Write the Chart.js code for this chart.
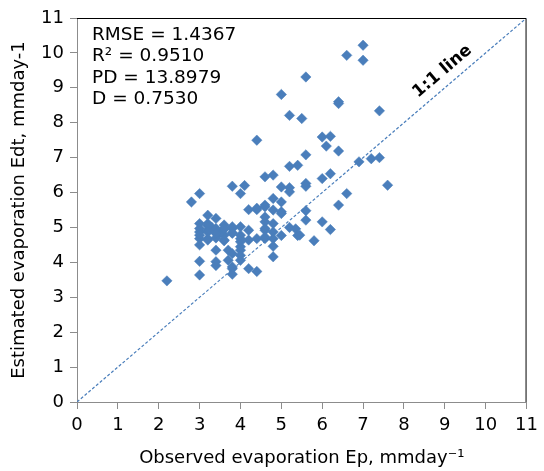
<!DOCTYPE html>
<html><head><meta charset="utf-8">
<script src="https://cdn.jsdelivr.net/npm/chart.js@4.4.1/dist/chart.umd.min.js"></script>
<style>html,body{margin:0;padding:0;background:#fff}#wrap{width:544px;height:471px}</style>
</head><body><div id="wrap"><canvas id="c" width="544" height="471"></canvas></div>
<script>
// Observed evaporation Ep (x) and estimated evaporation Edt (y), mm/day
const observed = [2.2,3.0,3.0,3.4,3.4,3.8,3.8,4.2,4.4,3.4,3.6,3.7,4.0,4.0,4.0,3.0,2.8,3.8,4.1,4.0,
  4.6,4.8,4.2,4.4,4.6,4.8,4.8,3.2,3.4,3.0,3.0,3.2,3.0,3.2,3.4,3.6,3.6,3.8,3.8,4.0,
  4.2,4.0,4.0,4.2,4.4,4.6,4.6,4.6,4.8,4.8,4.8,4.8,4.8,3.7,3.8,7.0,6.6,7.0,5.6,5.0,
  6.4,6.4,7.4,5.2,5.5,6.0,6.2,6.1,6.4,5.6,4.4,6.9,7.2,7.4,7.6,5.2,5.4,6.0,6.2,5.0,
  5.2,5.2,5.6,5.6,6.6,5.0,5.0,5.6,6.4,5.6,6.0,5.2,5.35,6.2,5.0,5.4,5.8,3.3,3.5,3.4,
  3.0,3.2,3.6,4.6,4.4,4.6,5.0,4.6,4.6,4.0,4.0,3.8,3.8,3.6,3.6,3.4,3.4,3.2,3.2,3.0,
  3.0,3.2,3.8,5.45];
const estimated = [3.47,3.64,4.03,3.91,4.02,3.82,3.66,3.82,3.74,4.35,4.62,4.35,4.35,4.06,4.2,5.97,5.73,6.18,6.2,5.97,
  6.45,6.5,5.51,5.51,5.64,5.83,5.5,5.35,5.26,5.11,4.87,4.92,4.68,4.68,4.92,5.07,4.78,4.97,4.85,5.02,
  4.92,4.68,4.45,4.64,4.68,5.16,4.92,4.68,4.87,4.68,5.11,4.16,4.46,4.06,3.87,10.22,9.93,9.79,9.31,8.81,
  8.6,8.55,8.34,8.21,8.12,7.59,7.61,7.33,7.19,7.08,7.5,6.88,6.97,7.0,6.21,6.75,6.78,6.4,6.54,6.16,
  6.14,6.02,6.26,6.18,5.97,5.73,5.4,5.48,5.64,5.21,5.16,5.0,4.96,4.94,4.77,4.77,4.62,5.0,4.85,4.7,
  4.5,5.05,4.95,5.3,5.55,5.59,5.45,4.97,4.73,4.78,4.59,5.02,4.83,4.97,4.64,4.97,4.83,5.11,4.87,4.97,
  4.78,4.64,4.25,4.78];
const lineX = [0, 11];
const lineY = [0, 11];
const tickValues = [0,1,2,3,4,5,6,7,8,9,10,11];
const statsLines = ['RMSE = 1.4367', 'R\u00B2 = 0.9510', 'PD = 13.8979', 'D = 0.7530'];
const lineLabel = '1:1 line';
const lineLabelPos = {x: 8.94, y: 9.47};

const FONT = "'DejaVu Sans', 'Liberation Sans', Arial, sans-serif";
const scatterPts = observed.map((v, i) => ({x: v, y: estimated[i]}));
const linePts = lineX.map((v, i) => ({x: v, y: lineY[i]}));

const overlay = {
  id: 'overlay',
  afterDatasetsDraw(chart) {
    const {ctx, chartArea: a, scales: {x, y}} = chart;
    ctx.save();
    // black frame top & right
    ctx.strokeStyle = '#000';
    ctx.lineWidth = 1;
    ctx.beginPath();
    ctx.moveTo(a.left, a.top + 0.5);
    ctx.lineTo(a.right - 0.5, a.top + 0.5);
    ctx.lineTo(a.right - 0.5, a.bottom);
    ctx.stroke();
    // stats text
    ctx.fillStyle = '#000';
    ctx.font = '18.5px ' + FONT;
    ctx.textBaseline = 'middle';
    ctx.textAlign = 'left';
    statsLines.forEach((t, i) => ctx.fillText(t, a.left + 15, a.top + 17 + i * 21.5));
    // 1:1 label
    const px = x.getPixelForValue(lineLabelPos.x), py = y.getPixelForValue(lineLabelPos.y);
    const ang = Math.atan2(y.getPixelForValue(0) - y.getPixelForValue(1), x.getPixelForValue(1) - x.getPixelForValue(0));
    ctx.translate(px, py);
    ctx.rotate(-ang);
    ctx.font = 'bold 17px ' + FONT;
    ctx.textAlign = 'center';
    ctx.fillText(lineLabel, 0, 0);
    ctx.restore();
  }
};

new Chart(document.getElementById('c'), {
  type: 'scatter',
  data: {
    datasets: [
      {data: linePts, type: 'line', showLine: true, borderColor: '#4A7EBB', borderWidth: 1.2,
       borderDash: [3, 2], pointRadius: 0, fill: false, order: 1},
      {data: scatterPts, pointStyle: 'rectRot', pointRadius: 5.2, backgroundColor: '#4A7EBB',
       borderColor: '#4A7EBB', borderWidth: 0.5, order: 2}
    ]
  },
  options: {
    responsive: false,
    animation: false,
    events: [],
    layout: {padding: {top: 18, right: 14, left: 0, bottom: 0}},
    plugins: {legend: {display: false}, tooltip: {enabled: false}},
    scales: {
      x: {
        type: 'linear', min: 0, max: 11,
        afterBuildTicks: s => { s.ticks = tickValues.map(v => ({value: v})); },
        afterFit: s => { s.height = 69; },
        ticks: {color: '#000', font: {family: FONT, size: 18}, padding: 6, maxRotation: 0},
        grid: {drawOnChartArea: false, drawTicks: true, tickLength: 7, color: '#8c8c8c'},
        border: {color: '#8c8c8c', width: 1},
        title: {display: true, text: 'Observed evaporation Ep, mmday\u207B\u00B9', color: '#000',
                font: {family: FONT, size: 18}, padding: {top: 0, bottom: 2}}
      },
      y: {
        type: 'linear', min: 0, max: 11,
        afterBuildTicks: s => { s.ticks = tickValues.map(v => ({value: v})); },
        afterFit: s => { s.width = 77; },
        ticks: {color: '#000', font: {family: FONT, size: 18}, padding: 6},
        grid: {drawOnChartArea: false, drawTicks: true, tickLength: 7, color: '#8c8c8c'},
        border: {color: '#8c8c8c', width: 1},
        title: {display: true, text: 'Estimated evaporation Edt, mmday-1', color: '#000',
                font: {family: FONT, size: 18}, padding: {top: 9, bottom: 0}}
      }
    }
  },
  plugins: [overlay]
});
</script></body></html>
